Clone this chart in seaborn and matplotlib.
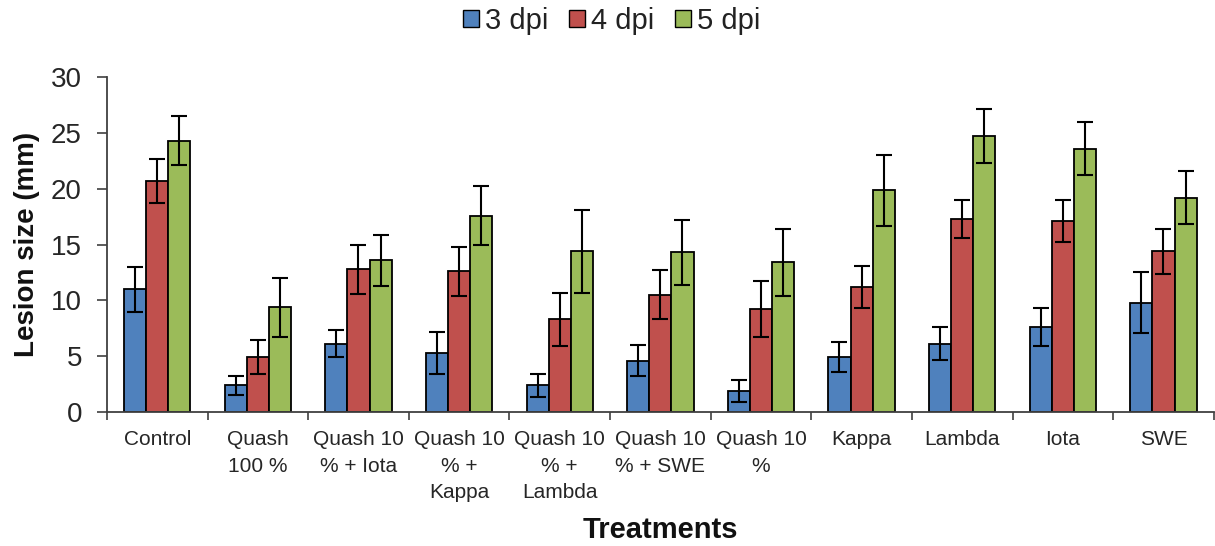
import matplotlib
matplotlib.use("Agg")
import matplotlib.pyplot as plt
import seaborn as sns
import pandas as pd
import numpy as np

categories = ["Control", "Quash\n100 %", "Quash 10\n% + Iota", "Quash 10\n% +\nKappa",
              "Quash 10\n% +\nLambda", "Quash 10\n% + SWE", "Quash 10\n%", "Kappa",
              "Lambda", "Iota", "SWE"]
series = ["3 dpi", "4 dpi", "5 dpi"]
dpi3 = [11.0, 2.4, 6.15, 5.3, 2.4, 4.6, 1.9, 4.95, 6.15, 7.6, 9.8]
dpi4 = [20.7, 4.95, 12.8, 12.6, 8.3, 10.5, 9.2, 11.2, 17.3, 17.1, 14.4]
dpi5 = [24.3, 9.4, 13.6, 17.6, 14.4, 14.3, 13.4, 19.85, 24.7, 23.6, 19.2]
err3 = [2.0, 0.85, 1.2, 1.9, 1.0, 1.4, 1.0, 1.35, 1.5, 1.7, 2.75]
err4 = [2.0, 1.55, 2.2, 2.2, 2.4, 2.2, 2.5, 1.85, 1.7, 1.9, 2.0]
err5 = [2.2, 2.65, 2.3, 2.6, 3.7, 2.9, 3.0, 3.2, 2.4, 2.35, 2.35]
colors = ["#4F81BD", "#C0504D", "#9BBB59"]

sns.set_theme(style="white")
plt.rcParams['font.family'] = ['Liberation Sans', 'DejaVu Sans']

rows = []
for s, vals, errs in zip(series, [dpi3, dpi4, dpi5], [err3, err4, err5]):
    for c, v, e in zip(categories, vals, errs):
        rows.append({"Treatment": c, "Series": s, "Value": v, "Err": e})
df = pd.DataFrame(rows)

fig = plt.figure(figsize=(12.15, 5.46), dpi=100)
ax = fig.add_axes([0.088, 0.245, 0.911, 0.614])

sns.barplot(data=df, x="Treatment", y="Value", hue="Series", palette=colors,
            order=categories, hue_order=series, errorbar=None, width=0.66,
            saturation=1, edgecolor="black", linewidth=1.3, ax=ax, legend=True)

# error bars using bar centers
for cont, errs in zip(ax.containers, [err3, err4, err5]):
    xs = [p.get_x() + p.get_width() / 2 for p in cont.patches]
    hs = [p.get_height() for p in cont.patches]
    ax.errorbar(xs, hs, yerr=errs, fmt="none", ecolor="black", elinewidth=1.5,
                capsize=6, capthick=1.5, zorder=5)

ax.set_ylim(0, 30)
ax.set_xlim(-0.5, len(categories) - 0.5)
ax.set_yticks([0, 5, 10, 15, 20, 25, 30])
ax.tick_params(axis="y", labelsize=20, direction="out", length=7, width=1.2, color="#404040",
               left=True, pad=11, labelcolor="#262626")
ax.set_xticks(np.arange(-0.5, len(categories), 1.0), minor=True)
ax.tick_params(axis="x", which="minor", direction="out", length=6, width=1.2, color="#404040", bottom=True)
ax.tick_params(axis="x", which="major", length=0, pad=13)
ax.set_xticklabels(categories, fontsize=15, color="#262626", linespacing=1.5)
for lab in ax.get_xticklabels():
    lab.set_verticalalignment("top")

for s in ["top", "right"]:
    ax.spines[s].set_visible(False)
for s in ["left", "bottom"]:
    ax.spines[s].set_color("#404040")
    ax.spines[s].set_linewidth(1.3)

ax.set_ylabel("Lesion size (mm)", fontsize=20, fontweight="bold", labelpad=8, color="#111111")
ax.set_xlabel("Treatments", fontsize=21, fontweight="bold", labelpad=10, color="#111111")

leg = ax.legend(loc="center", bbox_to_anchor=(0.456, 1.167), ncol=3, frameon=False,
                fontsize=21, handlelength=0.55, handleheight=0.55, handletextpad=0.2,
                columnspacing=0.7, borderaxespad=0, borderpad=0)
for h in leg.legend_handles:
    h.set_edgecolor("black")
    h.set_linewidth(1.0)
for t in leg.get_texts():
    t.set_color("#222222")

fig.savefig("out.png", dpi=100)
